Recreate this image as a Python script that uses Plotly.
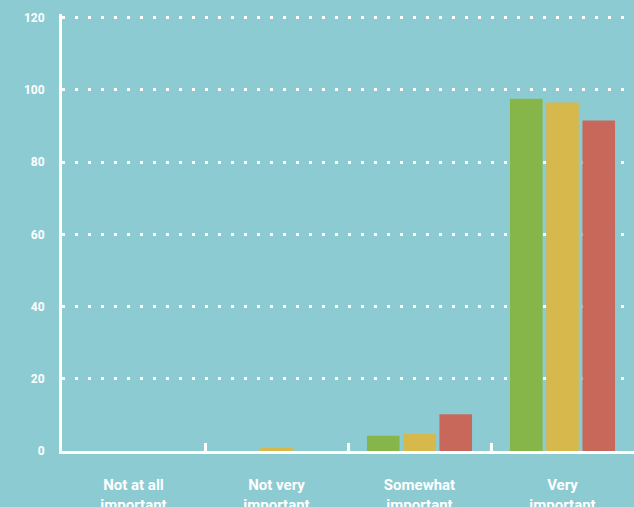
import plotly.graph_objects as go

categories = ["Not at all<br>important", "Not very<br>important", "Somewhat<br>important", "Very<br>important"]
series_a = [0, 0, 4.2, 97.5]
series_b = [0, 0.8, 4.7, 96.5]
series_c = [0, 0, 10.2, 91.5]
y_ticks = [0, 20, 40, 60, 80, 100, 120]

colors = ["#86b64a", "#d6b84c", "#c7685b"]
bg = "#8ccbd2"

fig = go.Figure()
for vals, col in zip([series_a, series_b, series_c], colors):
    fig.add_trace(go.Bar(x=categories, y=vals, marker=dict(color=col, line=dict(width=0))))

fig.update_layout(
    width=634, height=507,
    margin=dict(l=62, r=0, t=14, b=56),
    paper_bgcolor=bg, plot_bgcolor=bg,
    showlegend=False,
    barmode="group", bargap=0.24, bargroupgap=0.1,
    font=dict(family="Liberation Sans Narrow, Roboto, sans-serif", color="white"),
)
fig.update_xaxes(
    type="category", tickson="boundaries", ticks="inside", ticklen=8, tickwidth=3, tickcolor="white",
    showline=True, linecolor="white", linewidth=3, showgrid=False, automargin=False,
    tickfont=dict(size=15, color="white", weight="bold"), ticklabelstandoff=18,
)
fig.update_yaxes(
    range=[0, 121], tickvals=y_ticks, ticks="", showline=True, linecolor="white", linewidth=3,
    showgrid=True, gridcolor="white", gridwidth=3, griddash="3px,10px", zeroline=False, automargin=False,
    tickfont=dict(size=12, color="white", weight="bold"), ticklabelstandoff=12,
)
fig.write_html(
    "out.html",
    config={"displayModeBar": False},
    post_script="document.body.style.margin='0';document.body.style.overflow='hidden';document.body.style.background='%s';" % bg,
)
